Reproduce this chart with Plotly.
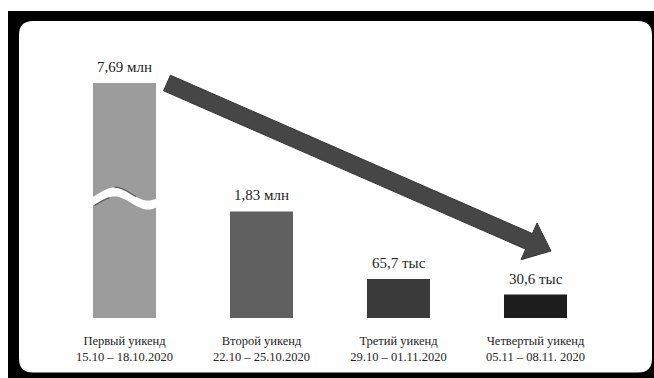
import numpy as np
import plotly.graph_objects as go

# ---- data ----
weekends = ["Первый уикенд", "Второй уикенд", "Третий уикенд", "Четвертый уикенд"]
dates = ["15.10 – 18.10.2020", "22.10 – 25.10.2020", "29.10 – 01.11.2020", "05.11 – 08.11. 2020"]
viewers = [7.69e6, 1.83e6, 65.7e3, 30.6e3]
value_labels = ["7,69 млн", "1,83 млн", "65,7 тыс", "30,6 тыс"]
bar_colors = ["#9c9c9c", "#606060", "#3a3a3a", "#1d1d1d"]

W, H = 654, 378
categories = [f"{w}<br>{d}" for w, d in zip(weekends, dates)]

def px(x):
    return x / W

def py(y):
    return 1 - y / H

# broken axis: lower log panel, upper linear panel
lower_range = [3.985, 6.549]
upper_range = [7.0e6, 7.828e6]

fig = go.Figure()
fig.add_trace(go.Bar(x=categories, y=viewers, marker=dict(color=bar_colors, line=dict(width=0)),
                     xaxis="x", yaxis="y", hoverinfo="skip"))
fig.add_trace(go.Bar(x=categories, y=viewers, marker=dict(color=bar_colors, line=dict(width=0)),
                     xaxis="x", yaxis="y2", hoverinfo="skip"))

label_font = dict(family="Liberation Serif", size=15, color="#1e1e1e")
annotations = []
for c, v, lab in zip(categories, viewers, value_labels):
    if np.log10(v) > lower_range[1]:
        annotations.append(dict(x=c, y=v, xref="x", yref="y2", text=lab, showarrow=False,
                                yanchor="middle", yshift=16, font=label_font))
    else:
        annotations.append(dict(x=c, y=np.log10(v), xref="x", yref="y", text=lab, showarrow=False,
                                yanchor="middle", yshift=16, font=label_font))

shapes = []
# black frame and white rounded card
shapes.append(dict(type="rect", xref="paper", yref="paper", x0=px(8), x1=px(654), y0=py(378), y1=py(11),
                   fillcolor="#000000", line=dict(width=0), layer="below"))
x0c, x1c, y0c, y1c, r = 19, 652, 21, 372.5, 14
card = (f"M {px(x0c + r)} {py(y0c)} L {px(x1c - r)} {py(y0c)} Q {px(x1c)} {py(y0c)} {px(x1c)} {py(y0c + r)} "
        f"L {px(x1c)} {py(y1c - r)} Q {px(x1c)} {py(y1c)} {px(x1c - r)} {py(y1c)} "
        f"L {px(x0c + r)} {py(y1c)} Q {px(x0c)} {py(y1c)} {px(x0c)} {py(y1c - r)} "
        f"L {px(x0c)} {py(y0c + r)} Q {px(x0c)} {py(y0c)} {px(x0c + r)} {py(y0c)} Z")
shapes.append(dict(type="path", xref="paper", yref="paper", path=card,
                   fillcolor="#fefefe", line=dict(width=0), layer="below"))

# wavy break across the first bar
t = np.linspace(0, 1, 41)
wx = 91 + 67 * t
top = 194 - 6.5 * np.sin(2 * np.pi * (t - 0.1))
bot = top + 9
pts = [(a, b) for a, b in zip(wx, top)] + [(a, b) for a, b in zip(wx[::-1], bot[::-1])]
wave = "M " + " L ".join(f"{px(a)} {py(b)}" for a, b in pts) + " Z"
shapes.append(dict(type="path", xref="paper", yref="paper", path=wave,
                   fillcolor="#fefefe", line=dict(width=0), layer="above"))
m1 = (t >= 0.35) & (t <= 0.7)
s1 = "M " + " L ".join(f"{px(a)} {py(b - 0.3)}" for a, b in zip(wx[m1], top[m1]))
m2 = (t >= 0.04) & (t <= 0.3)
s2 = "M " + " L ".join(f"{px(a)} {py(b + 0.6)}" for a, b in zip(wx[m2], bot[m2]))
for s in (s1, s2):
    shapes.append(dict(type="path", xref="paper", yref="paper", path=s,
                       line=dict(color="#5a5a5a", width=1.2), layer="above"))

# big downward arrow
S = np.array([167.0, 83.0])
T = np.array([551.0, 251.0])
u = (T - S) / np.linalg.norm(T - S)
n = np.array([-u[1], u[0]])
h, L, hw = 8.5, 24, 20
B = T - L * u
poly = [S - h * n, B - h * n, B - hw * n, T, B + hw * n, B + h * n, S + h * n]
arrow = "M " + " L ".join(f"{px(p[0])} {py(p[1])}" for p in poly) + " Z"
shapes.append(dict(type="path", xref="paper", yref="paper", path=arrow,
                   fillcolor="#464646", line=dict(color="#363636", width=1), layer="above"))

fig.update_layout(
    width=W, height=H, autosize=False,
    margin=dict(l=0, r=0, t=0, b=0),
    paper_bgcolor="#ffffff", plot_bgcolor="rgba(0,0,0,0)",
    showlegend=False, barmode="overlay", bargap=0.54,
    xaxis=dict(domain=[px(56), px(604)], range=[-0.5, 3.5], type="category", anchor="y",
               showgrid=False, zeroline=False, showline=False, ticks="",
               tickfont=dict(family="Liberation Serif", size=12.5, color="#262626"),
               ticklabelstandoff=13),
    yaxis=dict(type="log", range=lower_range, domain=[py(318), py(198)], anchor="x",
               showgrid=False, zeroline=False, showline=False, showticklabels=False, ticks=""),
    yaxis2=dict(type="linear", range=upper_range, domain=[py(198), py(60)], anchor="x",
                showgrid=False, zeroline=False, showline=False, showticklabels=False, ticks=""),
    annotations=annotations,
    shapes=shapes,
)

fig.write_html("out.html")
